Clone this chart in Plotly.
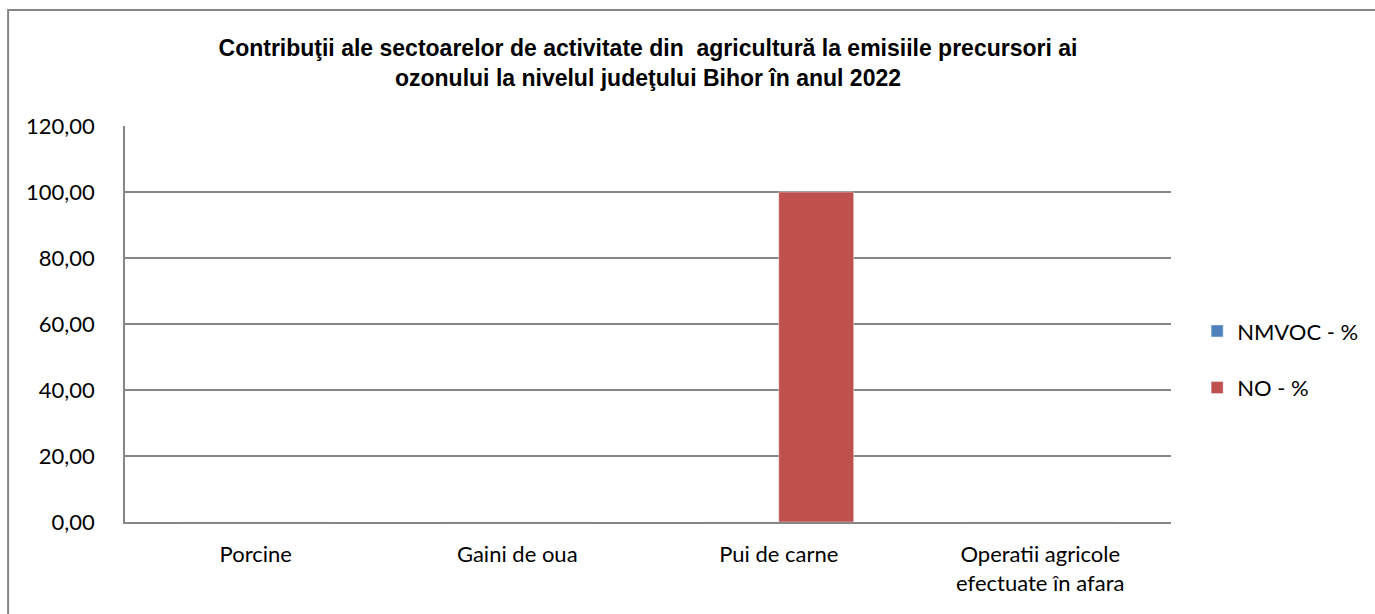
import plotly.graph_objects as go

categories = ["Porcine", "Gaini de oua", "Pui de carne", "Operatii agricole<br>efectuate în afara"]
nmvoc = [0, 0, 0, 0]
no = [0, 0, 100, 0]
series_names = ["NMVOC - %", "NO - %"]
title = ("Contribuţii ale sectoarelor de activitate din  agricultură la emisiile precursori ai<br>"
         "ozonului la nivelul judeţului Bihor în anul 2022")

L, R, T, B = 125, 1375 - 1172, 126, 614 - 522
PW, PH = 1375 - L - R, 614 - T - B

fig = go.Figure()
fig.add_trace(go.Bar(x=categories, y=nmvoc, name=series_names[0], marker_color="#4F81BD",
                     legendgroup="a"))
fig.add_trace(go.Bar(x=categories, y=no, name=series_names[1], marker_color="#C0504D",
                     legendgroup="b"))

fig.update_layout(
    width=1375, height=614,
    margin=dict(l=L, r=R, t=T, b=B),
    paper_bgcolor="white", plot_bgcolor="white",
    barmode="group", bargap=0.427, bargroupgap=0,
    separators=",.",
    title=dict(text=title, x=0.5, xref="paper", xanchor="center", y=0.909, yanchor="middle",
               font=dict(family="Liberation Sans, Arial", size=23, color="black", weight="bold")),
    font=dict(family="Lato, Noto Sans, sans-serif", size=22, color="black"),
    legend=dict(x=1.024, xanchor="left", y=0.41, yanchor="middle", tracegroupgap=25,
                font=dict(size=22), bgcolor="rgba(0,0,0,0)"),
    showlegend=True,
)
fig.update_xaxes(showgrid=False, showline=True, linecolor="#868686", linewidth=2,
                 ticks="", tickfont=dict(size=22), ticklabelstandoff=12)
fig.update_yaxes(range=[0, 120], dtick=20, tickformat=".2f", showgrid=True,
                 gridcolor="#868686", gridwidth=1.5, showline=True, linecolor="#868686",
                 linewidth=1.5, zeroline=False, ticks="", tickfont=dict(size=22),
                 ticklabelstandoff=24)

# outer chart border (right and bottom edges fall outside the page)
fig.add_shape(type="rect", xref="paper", yref="paper",
              x0=(8 - L) / PW, x1=(1400 - L) / PW,
              y0=(522 - 640) / PH, y1=(522 - 10) / PH,
              line=dict(color="#868686", width=2), fillcolor="rgba(0,0,0,0)", layer="below")

fig.write_html("out.html")
